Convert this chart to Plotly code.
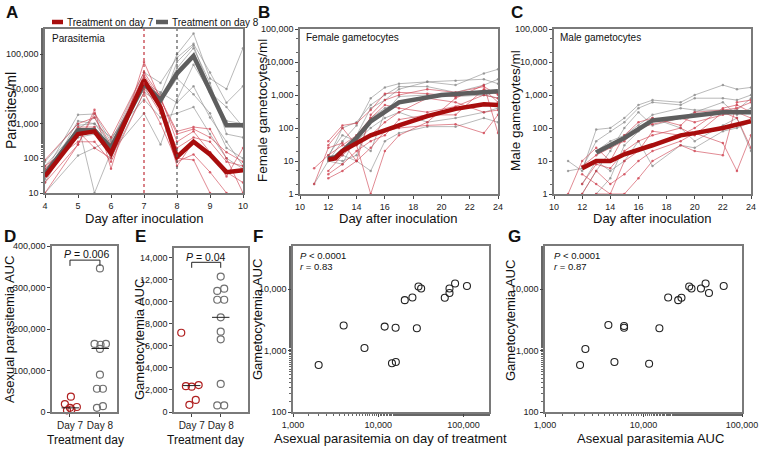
import plotly.graph_objects as go

# ---------------- DATA ----------------
# Panel A: parasitemia (parasites/ml)
days_A = [4, 5, 5.5, 6, 7, 7.5, 8, 8.5, 9, 9.5, 10]
mean_A_day7 = [30, 500, 600, 140, 18000, 3000, 110, 300, 130, 40, 45]
mean_A_day8 = [35, 650, 650, 200, 14000, 4800, 28000, 90000, 9000, 900, 900]
subj_A_day7 = [
    [10, 250, 2500, 50, 60000, 5000, 600, 800, 700, 100, 10],
    [30, 800, 800, 150, 12000, 2000, 200, 400, 300, 80, 60],
    [60, 300, 300, 80, 8000, 1000, 80, 130, 40, 10, 5],
    [90, 1000, 1500, 250, 25000, 5000, 500, 700, 400, 150, 80],
    [40, 600, 200, 100, 15000, 3000, 100, 90, 10, 5, 5],
    [20, 250, 2000, 400, 30000, 6000, 300, 600, 150, 30, 200],
    [50, 500, 700, 120, 20000, 2500, 60, 300, 150, 40, 20],
]
subj_A_day8 = [
    [10, 120, 200, 350, 12000, 7000, 100000, 400000, 20000, 10000, 150000],
    [40, 1800, 1900, 300, 30000, 15000, 80000, 200000, 30000, 4000, 12000],
    [80, 1000, 10, 150, 2000, 250, 5000, 50000, 8000, 3000, 800],
    [60, 700, 1500, 200, 20000, 5000, 40000, 150000, 15000, 500, 400],
    [30, 500, 800, 100, 8000, 4000, 20000, 7000, 2000, 200, 100],
    [20, 900, 1000, 250, 15000, 8000, 4000, 12000, 1500, 300, 60],
    [50, 400, 500, 180, 10000, 3000, 60000, 180000, 10000, 1200, 1000],
    [25, 1200, 1000, 400, 5000, 1500, 2000, 3000, 500, 100, 50],
]

# Panel B: female gametocytes/ml
days_B = [11, 12, 13, 14, 15, 16, 17, 19, 21, 23, 24]
mean_B_days7 = [12, 12.5, 13, 14, 15, 17, 19, 21, 23, 24]
mean_B_day7 = [11, 12, 20, 35, 60, 120, 230, 380, 520, 500]
mean_B_days8 = [12, 12.5, 13, 14, 15, 16, 17, 20, 22, 24]
mean_B_day8 = [12, 13, 20, 50, 160, 300, 600, 1000, 1100, 1300]
subj_B_day7 = [
    [6, 15, 30, 60, 200, 500, 400, 300, 450, 1000, 800],
    [None, 40, 120, 140, 350, 1100, 1200, 1100, 900, 1400, 1100],
    [None, 3, 5, 10, 25, 80, 100, 120, 130, 70, 250],
    [None, 30, 100, 30, 1, 20, 60, 150, 800, 2000, 70],
    [None, 5, 15, 35, 60, 150, 300, 800, 600, 300, 350],
    [None, 4, 8, 20, 40, 60, 180, 250, 250, 1500, 600],
    [2, 25, 35, 10, 250, 700, 1000, 1500, 1200, 1800, 1000],
]
subj_B_day8 = [
    [2, 10, 40, 120, 800, 1700, 2200, 2500, 2000, 4500, 6000],
    [None, 13, 100, 150, 500, 1000, 1800, 1800, 1200, 2000, 3000],
    [None, 12, 15, 10, 5, 40, 70, 110, 110, 200, 150],
    [None, 10, 8, 60, 400, 700, 1500, 2500, 2700, 3000, 2200],
    [None, 15, 60, 40, 20, 300, 900, 1000, 900, 1000, 1200],
    [None, 12, 10, 15, 200, 400, 600, 900, 1100, 1000, 800],
    [None, 11, 20, 40, 100, 200, 300, 150, 200, 300, 400],
]

# Panel C: male gametocytes/ml
days_C = [11, 12, 13, 14, 15, 16, 17, 19, 20, 22, 23, 24]
mean_C_days7 = [12, 13, 14, 15, 17, 19, 20, 22, 24]
mean_C_day7 = [6, 10, 10, 16, 30, 60, 70, 100, 160]
mean_C_days8 = [13, 14, 15, 17, 20, 22, 24]
mean_C_day8 = [18, 30, 50, 170, 230, 300, 300]
subj_C_day7 = [
    [1, 10, 25, 10, 60, 150, 200, 120, 300, 350, 400, 600],
    [None, 4, 2, 1, 10, 20, 80, 60, 100, 400, 500, 300],
    [None, 1, 5, 2, 4, 10, 20, 40, 70, 35, 5, 60],
    [None, 7, 15, 25, 40, 100, 130, 200, 150, 250, 300, 200],
    [None, None, 1, 1, 1, 3, 10, 30, 20, 15, 600, 700],
    [None, 2, 8, 6, 20, 40, 60, 100, 60, 300, 200, 25],
]
subj_C_day8 = [
    [10, 5, 90, 100, 200, 500, 700, 600, 1000, 2000, 1500, 1700],
    [5, 6, 40, 80, 150, 400, 600, 500, 800, 800, 700, 1000],
    [None, 1, 5, 20, 100, 300, 120, 200, 300, 600, 250, 400],
    [None, None, 20, 40, 60, 120, 250, 400, 350, 350, 350, 800],
    [None, 2, 10, 5, 10, 40, 7, 30, 25, 80, 100, 150],
    [None, None, 1, 3, 30, 80, 200, 100, 40, 120, 200, 20],
]

# Panel D: asexual parasitemia AUC
auc_asex_day7 = [37000, 19000, 12000, 10000, 6000, 4000]
auc_asex_day8 = [346000, 164000, 162000, 164000, 152000, 90000, 56000, 56000, 10000, 14000]
median_asex = [10000, 153000]

# Panel E: gametocytemia AUC
auc_gam_day7 = [7200, 2350, 2300, 2450, 1100, 650]
auc_gam_day8 = [12300, 11000, 11200, 10200, 10200, 8600, 7300, 6600, 2550, 600, 600]
median_gam = [2400, 8600]

# Panel F: asexual parasitemia on day of treatment vs gametocytemia AUC
F_asex = [2000, 3930, 6900, 11900, 14500, 16100, 16000, 20500, 25200, 28400,
          29700, 31900, 60400, 68600, 68600, 79800, 110000]
F_gam = [580, 2550, 1100, 2450, 620, 650, 2350, 6600, 7300, 2300,
         11000, 10200, 7200, 8600, 10200, 12300, 11200]

# Panel G: asexual parasitemia AUC vs gametocytemia AUC
G_asex = [2270, 2570, 4400, 5070, 6350, 6350, 11400, 14500, 17800, 22500,
          24300, 29100, 30700, 38300, 42700, 46200, 65200]
G_gam = [580, 1060, 2600, 650, 2500, 2350, 610, 2300, 7300, 6600,
         7200, 11000, 10200, 10200, 12300, 8600, 11200]

cat_labels = ["Day 7", "Day 8"]
legend_labels = ["Treatment on day 7", "Treatment on day 8"]

# ---------------- STYLE ----------------
W, H = 764, 462
FONT = "Liberation Sans, Arial, sans-serif"
RED = "#a80d0d"
GRAY = "#5e5e5e"
RED_THIN = "rgba(205,60,75,0.75)"
GRAY_THIN = "rgba(130,130,130,0.7)"
BOX = "#7a7a7a"

def px_x(a, b):
    return [a / W, b / W]

def px_y(top, bottom):
    return [1 - bottom / H, 1 - top / H]

fig = go.Figure()

def add_lines(xs, subjects, color, xa, ya):
    for s in subjects:
        fig.add_trace(go.Scatter(x=xs, y=s, mode="lines+markers", xaxis=xa, yaxis=ya,
                                 line=dict(color=color, width=0.8), connectgaps=True,
                                 marker=dict(size=2.5, color=color), showlegend=False,
                                 hoverinfo="skip"))

def add_mean(xs, ys, color, xa, ya):
    fig.add_trace(go.Scatter(x=xs, y=ys, mode="lines", xaxis=xa, yaxis=ya,
                             line=dict(color=color, width=4.5), showlegend=False))

# Panel A
add_lines(days_A, subj_A_day8, GRAY_THIN, "x", "y")
add_lines(days_A, subj_A_day7, RED_THIN, "x", "y")
add_mean(days_A, mean_A_day8, GRAY, "x", "y")
add_mean(days_A, mean_A_day7, RED, "x", "y")
# Panel B
add_lines(days_B, subj_B_day8, GRAY_THIN, "x2", "y2")
add_lines(days_B, subj_B_day7, RED_THIN, "x2", "y2")
add_mean(mean_B_days8, mean_B_day8, GRAY, "x2", "y2")
add_mean(mean_B_days7, mean_B_day7, RED, "x2", "y2")
# Panel C
add_lines(days_C, subj_C_day8, GRAY_THIN, "x3", "y3")
add_lines(days_C, subj_C_day7, RED_THIN, "x3", "y3")
add_mean(mean_C_days8, mean_C_day8, GRAY, "x3", "y3")
add_mean(mean_C_days7, mean_C_day7, RED, "x3", "y3")

# Panel D & E (dot plots with small horizontal spread for readability)
spread_D7 = [0.03, -0.17, 0.23, 0.0, 0.05, -0.1]
spread_D8 = [0.0, -0.18, 0.02, 0.2, 0.0, 0.0, -0.1, 0.1, -0.1, 0.1]
spread_E7 = [-0.36, -0.2, 0.0, 0.24, 0.14, -0.08]
spread_E8 = [0.0, -0.12, 0.12, -0.12, 0.12, 0.0, 0.0, 0.0, 0.0, -0.12, 0.12]

def dots(xc, spread, ys, color, xa, ya):
    fig.add_trace(go.Scatter(x=[xc + s for s in spread], y=ys, mode="markers",
                             xaxis=xa, yaxis=ya, showlegend=False, cliponaxis=False,
                             marker=dict(symbol="circle-open", size=7, color=color,
                                         line=dict(width=1.2, color=color))))

dots(1, spread_D7, auc_asex_day7, "#b02020", "x4", "y4")
dots(2, spread_D8, auc_asex_day8, "#707070", "x4", "y4")
dots(1, spread_E7, auc_gam_day7, "#b02020", "x5", "y5")
dots(2, spread_E8, auc_gam_day8, "#707070", "x5", "y5")
for i, m in enumerate(median_asex):
    fig.add_trace(go.Scatter(x=[i + 1 - 0.28, i + 1 + 0.3], y=[m, m], mode="lines",
                             xaxis="x4", yaxis="y4", showlegend=False,
                             line=dict(color="#222", width=1)))
for i, m in enumerate(median_gam):
    fig.add_trace(go.Scatter(x=[i + 1 - 0.3, i + 1 + 0.3], y=[m, m], mode="lines",
                             xaxis="x5", yaxis="y5", showlegend=False,
                             line=dict(color="#222", width=1)))

# Panel F & G
fig.add_trace(go.Scatter(x=F_asex, y=F_gam, mode="markers", xaxis="x6", yaxis="y6",
                         showlegend=False,
                         marker=dict(symbol="circle-open", size=7, color="#222",
                                     line=dict(width=1.1, color="#222"))))
fig.add_trace(go.Scatter(x=G_asex, y=G_gam, mode="markers", xaxis="x7", yaxis="y7",
                         showlegend=False,
                         marker=dict(symbol="circle-open", size=7, color="#222",
                                     line=dict(width=1.1, color="#222"))))

# ---------------- AXES ----------------
tickfont = dict(family=FONT, size=9, color="#222")

def base_axis(**kw):
    d = dict(showline=True, mirror=True, linecolor=BOX, linewidth=1.5,
             ticks="outside", ticklen=3, tickcolor="#444", tickwidth=1,
             showgrid=False, zeroline=False, tickfont=tickfont,
             automargin=False, tickangle=0)
    d.update(kw)
    return d

def log_labels(vals):
    return [f"{v:,}" for v in vals]

minor_log = dict(ticks="outside", ticklen=2, tickcolor="#666", showgrid=False)

yA_vals = [10, 100, 1000, 10000, 100000]
yBC_vals = [1, 10, 100, 1000, 10000, 100000]
FG_x_vals = [1000, 10000, 100000]
FG_y_vals = [100, 1000, 10000]
cat_font = dict(family=FONT, size=10, color="#222")

layout = dict(
    width=W, height=H, margin=dict(l=0, r=0, t=0, b=0, pad=0), autosize=False,
    paper_bgcolor="white", plot_bgcolor="white", showlegend=False,
    font=dict(family=FONT, color="#222"),
    xaxis=base_axis(domain=px_x(45, 243), range=[4, 10], dtick=1, anchor="y"),
    yaxis=base_axis(domain=px_y(29, 193), type="log", range=[1, 5.73], anchor="x",
                    tickvals=yA_vals, ticktext=log_labels(yA_vals), minor=minor_log),
    xaxis2=base_axis(domain=px_x(300, 498), range=[10, 24], dtick=2, anchor="y2"),
    yaxis2=base_axis(domain=px_y(29, 194), type="log", range=[0, 5], anchor="x2",
                     tickvals=yBC_vals, ticktext=log_labels(yBC_vals), minor=minor_log),
    xaxis3=base_axis(domain=px_x(554, 751), range=[10, 24], dtick=2, anchor="y3"),
    yaxis3=base_axis(domain=px_y(29, 194), type="log", range=[0, 5], anchor="x3",
                     tickvals=yBC_vals, ticktext=log_labels(yBC_vals), minor=minor_log),
    xaxis4=base_axis(domain=px_x(52, 117), range=[0.4, 2.57], anchor="y4",
                     tickvals=[1, 2], ticktext=cat_labels, tickfont=cat_font),
    yaxis4=base_axis(domain=px_y(246, 412), range=[0, 400000], dtick=100000,
                     tickformat=",d", anchor="x4"),
    xaxis5=base_axis(domain=px_x(174, 248), range=[0.39, 2.94], anchor="y5",
                     tickvals=[1, 2], ticktext=cat_labels, tickfont=cat_font),
    yaxis5=base_axis(domain=px_y(248, 412), range=[0, 14900], dtick=2000,
                     tickformat=",d", anchor="x5"),
    xaxis6=base_axis(domain=px_x(293, 489), type="log", range=[3, 5.3], anchor="y6",
                     tickvals=FG_x_vals, ticktext=log_labels(FG_x_vals), minor=minor_log),
    yaxis6=base_axis(domain=px_y(246, 412), type="log", range=[2, 4.7], anchor="x6",
                     tickvals=FG_y_vals, ticktext=log_labels(FG_y_vals), minor=minor_log),
    xaxis7=base_axis(domain=px_x(545, 742), type="log", range=[3, 5], anchor="y7",
                     tickvals=FG_x_vals, ticktext=log_labels(FG_x_vals), minor=minor_log),
    yaxis7=base_axis(domain=px_y(246, 412), type="log", range=[2, 4.7], anchor="x7",
                     tickvals=FG_y_vals, ticktext=log_labels(FG_y_vals), minor=minor_log),
)
fig.update_layout(**layout)

# ---------------- SHAPES (treatment markers, brackets, legend) ----------------
shapes = [
    dict(type="line", xref="x", yref="y domain", x0=7, x1=7, y0=0, y1=1,
         line=dict(color="#c0303a", width=1.2, dash="dot")),
    dict(type="line", xref="x", yref="y domain", x0=8, x1=8, y0=0, y1=1,
         line=dict(color="#555", width=1.2, dash="dot")),
    # P-value brackets
    dict(type="path", xref="x4", yref="y4",
         path="M 1,352000 L 1,366000 L 2,366000 L 2,352000",
         line=dict(color="#222", width=1)),
    dict(type="path", xref="x5", yref="y5",
         path="M 1,13100 L 1,13600 L 2,13600 L 2,13100",
         line=dict(color="#222", width=1)),
    # legend swatches (panel A)
    dict(type="line", xref="paper", yref="paper", x0=52 / W, x1=63 / W,
         y0=1 - 22 / H, y1=1 - 22 / H, line=dict(color=RED, width=4.5)),
    dict(type="line", xref="paper", yref="paper", x0=156 / W, x1=168 / W,
         y0=1 - 22 / H, y1=1 - 22 / H, line=dict(color=GRAY, width=4.5)),
]
fig.update_layout(shapes=shapes)

def ann(text, x, y, size=13, xanchor="center", yanchor="middle", angle=0, bold=False,
        xref="paper", yref="paper"):
    if xref == "paper":
        x = x / W
    if yref == "paper":
        y = 1 - y / H
    if bold:
        text = f"<b>{text}</b>"
    return dict(text=text, x=x, y=y, xref=xref, yref=yref, showarrow=False,
                xanchor=xanchor, yanchor=yanchor, textangle=angle,
                font=dict(family=FONT, size=size, color="#111"))

annotations = [
    # panel letters
    ann("A", 4, 13, 17, "left", bold=True),
    ann("B", 256, 13, 17, "left", bold=True),
    ann("C", 509, 13, 17, "left", bold=True),
    ann("D", 2, 236, 17, "left", bold=True),
    ann("E", 133, 236, 17, "left", bold=True),
    ann("F", 251, 236, 17, "left", bold=True),
    ann("G", 506, 236, 17, "left", bold=True),
    # legend text
    ann(legend_labels[0], 65, 22, 10, "left"),
    ann(legend_labels[1], 170, 22, 10, "left"),
    # inner titles
    ann("Parasitemia", 50, 39, 10, "left"),
    ann("Female gametocytes", 304, 38, 10, "left"),
    ann("Male gametocytes", 558, 38, 10, "left"),
    # axis titles
    ann("Parasites/ml", 11, 111, 14, angle=-90),
    ann("Day after inoculation", 144, 218, 13),
    ann("Female gametocytes/ml", 262, 111, 13.5, angle=-90),
    ann("Day after inoculation", 399, 218, 13),
    ann("Male gametoytes/ml", 515, 111, 13.5, angle=-90),
    ann("Day after inoculation", 652, 218, 13),
    ann("Asexual parasitemia AUC", 9, 330, 13, angle=-90),
    ann("Treatment day", 85, 440, 12),
    ann("Gametocytemia AUC", 139, 340, 13, angle=-90),
    ann("Treatment day", 206, 440, 12),
    ann("Gametocytemia AUC", 257, 320, 13, angle=-90),
    ann("Asexual parasitemia on day of treatment", 390, 438, 13),
    ann("Gametocytemia AUC", 510, 320, 13, angle=-90),
    ann("Asexual parasitemia AUC", 650, 438, 13),
    # statistics
    ann("<i>P</i> = 0.006", 86, 254, 10.5),
    ann("<i>P</i> = 0.04", 206, 257, 10.5),
    ann("<i>P</i> < 0.0001", 298, 255, 9.5, "left"),
    ann("<i>r</i> = 0.83", 298, 266, 9.5, "left"),
    ann("<i>P</i> < 0.0001", 552, 255, 9.5, "left"),
    ann("<i>r</i> = 0.87", 552, 266, 9.5, "left"),
]
fig.update_layout(annotations=annotations)

fig.write_html("out.html", config={"displayModeBar": False},
               post_script="document.body.style.margin='0';document.body.style.overflow='hidden';")
